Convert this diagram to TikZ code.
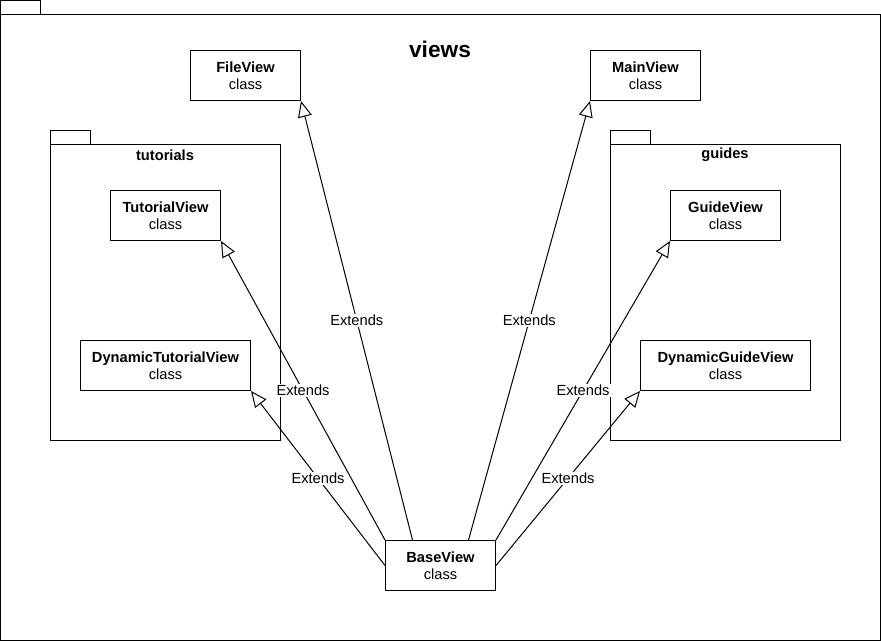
\documentclass[tikz,border=0pt]{standalone}
\usepackage{fontspec}
\setmainfont{Liberation Sans}
\usetikzlibrary{arrows.meta}
\begin{document}
\begin{tikzpicture}[x=0.75pt,y=-0.75pt,line width=0.75pt,
    font=\fontsize{11}{12.75}\selectfont,
    classbox/.style={draw,fill=white,align=center,minimum width=82.5pt,minimum height=37.5pt,inner sep=0pt},
    widebox/.style={classbox,minimum width=127.5pt},
    ext/.style={-{Triangle[open,length=12pt,width=10.5pt]}},
    extlabel/.style={fill=white,inner sep=1pt}]
    \useasboundingbox (0,0) rectangle (881,641);
    % Pacote views
    \draw (0.5,0.5) rectangle (40.5,14.5);
    \draw (0.5,14.5) rectangle (880.5,640.5);
    \node at (440,49) (viewsTitle) {\fontsize{17}{20}\selectfont\textbf{views}};
    % Pacote tutorials
    \draw (50.5,130.5) rectangle (90.5,144.5);
    \draw (50.5,144.5) rectangle (280.5,440.5);
    \node at (165,155) (tutorialsTitle) {\textbf{tutorials}};
    % Pacote guides
    \draw (610.5,130.5) rectangle (650.5,144.5);
    \draw (610.5,144.5) rectangle (840.5,440.5);
    \node at (725,155) (guidesTitle) {\textbf{guides}};
    % Classes
    \node at (245.5,75.5) (fileView) [classbox] {\textbf{FileView}\\class};
    \node at (645.5,75.5) (mainView) [classbox] {\textbf{MainView}\\class};
    \node at (165.5,215.5) (tutorialView) [classbox] {\textbf{TutorialView}\\class};
    \node at (165.5,365.5) (dynTutorialView) [widebox] {\textbf{DynamicTutorialView}\\class};
    \node at (725.5,215.5) (guideView) [classbox] {\textbf{GuideView}\\class};
    \node at (725.5,365.5) (dynGuideView) [widebox] {\textbf{DynamicGuideView}\\class};
    \node at (440.5,565.5) (baseView) [classbox] {\textbf{BaseView}\\class};
    % Heranca
    \draw[ext] ([xshift=-21pt]baseView.north) -- (fileView.south east) node[midway,extlabel] {Extends};
    \draw[ext] ([xshift=21pt]baseView.north) -- (mainView.south west) node[midway,extlabel] {Extends};
    \draw[ext] (baseView.north west) -- (tutorialView.south east) node[midway,extlabel] {Extends};
    \draw[ext] (baseView.north east) -- (guideView.south west) node[midway,extlabel] {Extends};
    \draw[ext] (baseView.west) -- (dynTutorialView.south east) node[midway,extlabel] {Extends};
    \draw[ext] (baseView.east) -- (dynGuideView.south west) node[midway,extlabel] {Extends};
\end{tikzpicture}
\end{document}
